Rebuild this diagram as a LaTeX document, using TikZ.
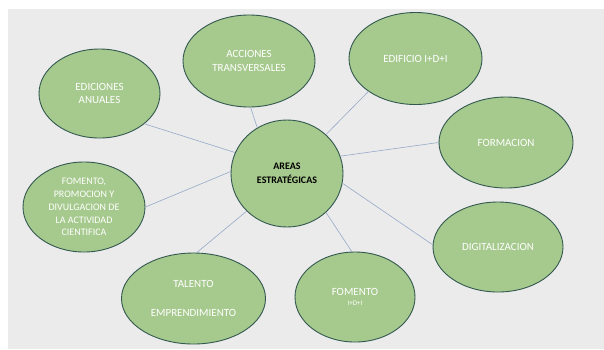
\documentclass[tikz,border=0pt]{standalone}
\usepackage{fontspec}
\setmainfont{Carlito}
\usetikzlibrary{shapes.geometric}
\definecolor{bg}{RGB}{235,235,235}
\definecolor{efill}{RGB}{166,201,141}
\definecolor{edraw}{RGB}{50,88,80}
\definecolor{conn}{RGB}{150,170,200}
\begin{document}
\begin{tikzpicture}[x=1pt,y=-1pt,
  area/.style={ellipse, fill=efill, draw=edraw, line width=0.9pt, inner sep=0pt,
    text=white, align=center, font=\fontsize{11}{13.8}\selectfont},
  hub/.style={area, text=black, font=\bfseries\fontsize{10}{14}\selectfont},
  link/.style={draw=conn, line width=0.6pt}]
\useasboundingbox (0,0) rectangle (604,349);
\fill[white] (0,0) rectangle (604,349);
\fill[bg] (8,9) rectangle (604,349);

\node[hub, minimum width=112pt, minimum height=107pt] (c) at (287,173.5) {AREAS\\ESTRATÉGICAS};
\node[area, minimum width=121pt, minimum height=89pt] (ed) at (99.5,93.5) {EDICIONES\\ANUALES};
\node[area, minimum width=132pt, minimum height=92pt] (ac) at (249,61) {ACCIONES\\TRANSVERSALES};
\node[area, minimum width=133pt, minimum height=92pt] (edi) at (415.5,58.5) {EDIFICIO I+D+I};
\node[area, minimum width=134pt, minimum height=91pt] (fo) at (506,142.5) {FORMACION};
\node[area, minimum width=130pt, minimum height=90pt] (di) at (498,247) {DIGITALIZACION};
\node[area, minimum width=122pt, minimum height=90pt, font=\fontsize{10}{12.8}\selectfont] (pr) at (84,207) {FOMENTO,\\PROMOCION Y\\DIVULGACION DE\\LA ACTIVIDAD\\CIENTIFICA};
\node[area, minimum width=144pt, minimum height=91pt] (ta) at (193.5,298.5) {TALENTO\\[14.5pt]EMPRENDIMIENTO};
\node[area, minimum width=120pt, minimum height=90pt] (fi) at (355,297) {FOMENTO\\[-3pt]{\fontsize{7}{8}\selectfont I+D+I}};

\draw[link] (ed.-34) -- (c.158);
\draw[link] (ac.-88) -- (c.123);
\draw[link] (edi.-145) -- (c.45);
\draw[link] (fo.180) -- (c.18);
\draw[link] (di.178) -- (c.-10);
\draw[link] (fi.94) -- (c.-45);
\draw[link] (ta.86) -- (c.-137);
\draw[link] (pr.0) -- (c.178);
\end{tikzpicture}
\end{document}
